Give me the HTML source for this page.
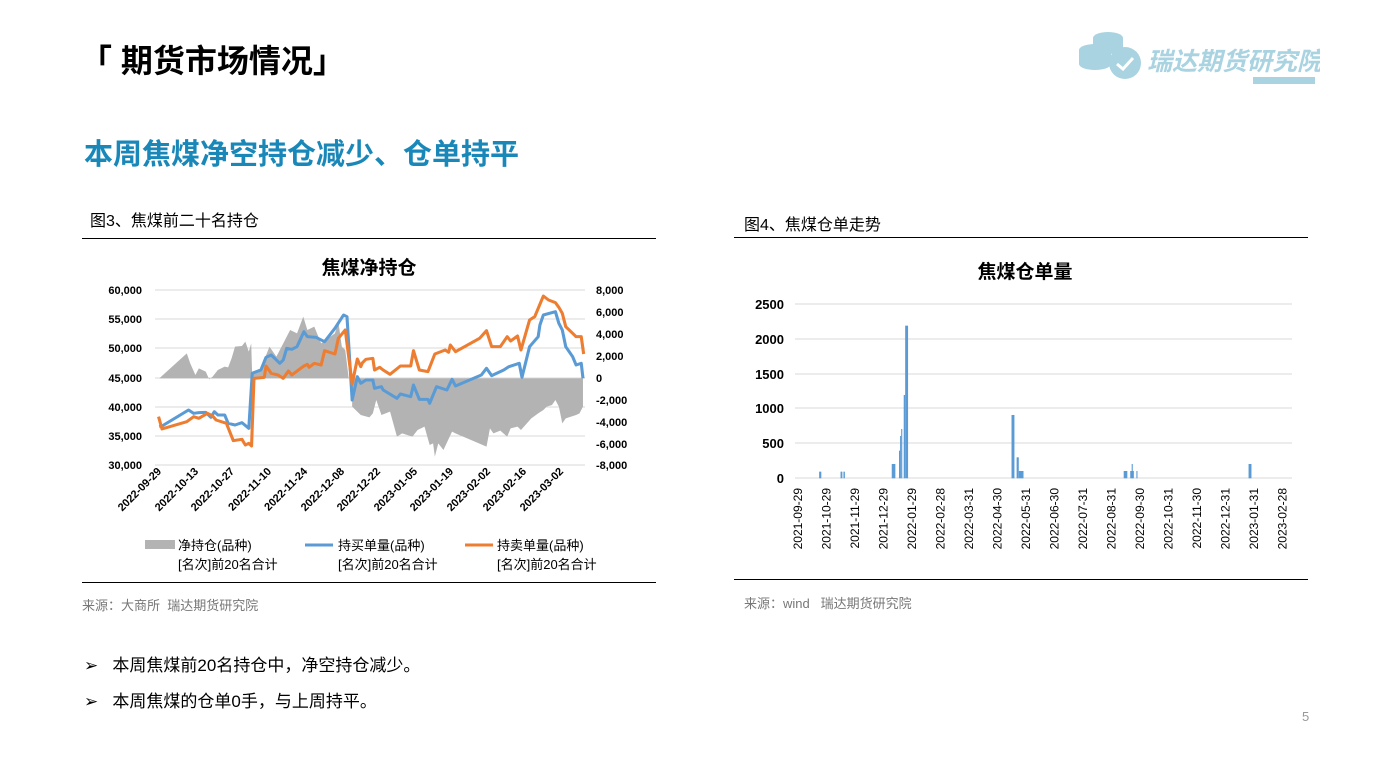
<!DOCTYPE html>
<html><head><meta charset="utf-8"><style>
body{margin:0;width:1387px;height:780px;background:#fff;position:relative;overflow:hidden;font-family:"Liberation Sans","Noto Sans CJK SC",sans-serif}
.a{position:absolute;white-space:nowrap}
</style></head><body>
<div class="a" style="left:80px;top:36px;font-size:32px;font-weight:bold;color:#000">「 期货市场情况」</div>
<svg class="a" style="left:1075px;top:28px" width="245" height="60">
<ellipse cx="33" cy="10" rx="15" ry="6" fill="#a9d3e1"/><rect x="18" y="10" width="30" height="10" fill="#a9d3e1"/><ellipse cx="33" cy="20" rx="15" ry="6" fill="#a9d3e1"/>
<ellipse cx="20" cy="22" rx="16" ry="6" fill="#a9d3e1"/><rect x="4" y="22" width="32" height="14" fill="#a9d3e1"/><ellipse cx="20" cy="36" rx="16" ry="6" fill="#a9d3e1"/>
<circle cx="50" cy="35" r="16" fill="#a9d3e1"/><path d="M42 36 L48 41 L58 30" stroke="#fff" stroke-width="3" fill="none"/>
<text x="72" y="42" font-size="25" font-weight="bold" font-style="italic" fill="#a9d3e1" font-family="Liberation Sans,Noto Sans CJK SC,sans-serif">瑞达期货研究院</text>
<rect x="178" y="49" width="62" height="7" fill="#a9d3e1"/></svg>
<div class="a" style="left:84px;top:131px;font-size:29px;font-weight:bold;color:#1a87b9">本周焦煤净空持仓减少、仓单持平</div>
<div class="a" style="left:90px;top:207px;font-size:16px">图3、焦煤前二十名持仓</div>
<div class="a" style="left:744px;top:211px;font-size:16px">图4、焦煤仓单走势</div>
<div class="a" style="left:82px;top:238px;width:574px;height:1px;background:#000"></div>
<div class="a" style="left:82px;top:582px;width:574px;height:1px;background:#000"></div>
<div class="a" style="left:734px;top:237px;width:574px;height:1px;background:#000"></div>
<div class="a" style="left:734px;top:579px;width:574px;height:1px;background:#000"></div>
<div class="a" style="left:82px;top:595px;font-size:13px;color:#777">来源：大商所&nbsp; 瑞达期货研究院</div>
<div class="a" style="left:744px;top:593px;font-size:13px;color:#777">来源：wind&nbsp;&nbsp; 瑞达期货研究院</div>
<div class="a" style="left:84px;top:651px;font-size:17px">➢&nbsp;&nbsp; 本周焦煤前20名持仓中，净空持仓减少。</div>
<div class="a" style="left:84px;top:687px;font-size:17px">➢&nbsp;&nbsp; 本周焦煤的仓单0手，与上周持平。</div>
<div class="a" style="left:1302px;top:709px;font-size:13px;color:#999">5</div>

<svg class="a" style="left:0;top:0" width="1387" height="780" font-family="Liberation Sans,Noto Sans CJK SC,sans-serif">
<text x="369" y="274" font-size="19" font-weight="bold" text-anchor="middle">焦煤净持仓</text>
<g stroke="#d9d9d9" stroke-width="1">
<line x1="155" x2="585" y1="290" y2="290"/><line x1="155" x2="585" y1="319" y2="319"/><line x1="155" x2="585" y1="348" y2="348"/><line x1="155" x2="585" y1="378" y2="378"/><line x1="155" x2="585" y1="407" y2="407"/><line x1="155" x2="585" y1="436" y2="436"/><line x1="155" x2="585" y1="465" y2="465"/></g>
<g font-size="11" font-weight="bold" text-anchor="end">
<text x="142" y="294">60,000</text><text x="142" y="323">55,000</text><text x="142" y="352">50,000</text><text x="142" y="382">45,000</text><text x="142" y="411">40,000</text><text x="142" y="440">35,000</text><text x="142" y="469">30,000</text></g>
<g font-size="11" font-weight="bold">
<text x="596" y="294">8,000</text><text x="596" y="316">6,000</text><text x="596" y="338">4,000</text><text x="596" y="360">2,000</text><text x="596" y="382">0</text><text x="596" y="404">-2,000</text><text x="596" y="426">-4,000</text><text x="596" y="448">-6,000</text><text x="596" y="469">-8,000</text></g>
<g transform="translate(80,280) scale(0.3445,0.3333)">
<polygon fill="#b3b3b3" points="230,295 310,220 320,250 335,285 345,265 365,275 375,298 385,290 400,270 420,260 430,262 440,235 450,200 470,198 480,185 490,215 497,190 500,295 500,275 525,265 550,200 570,230 590,190 610,150 630,160 648,110 660,150 680,140 690,165 700,190 720,175 740,160 750,125 760,200 770,210 780,295"/>
<polygon fill="#b3b3b3" points="790,295 790,380 800,390 815,405 840,412 850,400 860,360 875,405 900,395 920,470 935,460 965,470 980,450 1000,440 1015,495 1025,490 1030,530 1040,490 1055,510 1080,455 1090,460 1180,500 1190,445 1200,460 1220,452 1240,470 1250,445 1270,440 1280,450 1310,415 1330,400 1345,390 1355,380 1370,375 1380,360 1390,380 1400,430 1410,415 1440,405 1450,400 1460,380 1460,295"/>
<polyline fill="none" stroke="#5b9bd5" stroke-width="9" stroke-linejoin="round" points="230,440 240,437 315,390 330,400 345,398 365,397 380,412 390,395 400,405 420,405 430,430 450,435 470,428 490,445 500,280 525,270 540,232 555,225 580,250 590,240 600,205 615,208 630,200 650,155 660,170 685,172 710,185 740,145 765,105 775,110 790,360 805,290 815,310 830,300 850,300 855,325 875,320 880,330 920,355 930,342 960,350 968,315 985,358 1010,358 1015,370 1035,320 1065,330 1080,298 1090,318 1165,285 1180,265 1195,287 1230,270 1245,260 1275,250 1283,292 1305,200 1330,170 1335,135 1345,105 1380,95 1390,130 1400,150 1410,200 1430,230 1440,255 1455,250 1460,295"/>
<polyline fill="none" stroke="#ed7d31" stroke-width="9" stroke-linejoin="round" points="228,410 238,447 310,425 330,410 345,415 370,400 385,408 395,420 425,430 445,482 470,478 480,495 490,490 498,498 505,295 535,292 540,258 555,280 575,285 590,295 605,273 615,285 650,258 660,253 665,262 680,250 700,255 710,212 740,222 750,175 770,150 790,312 805,237 815,260 820,248 830,238 850,235 855,270 870,262 880,270 900,283 930,258 960,258 968,212 985,270 1010,275 1030,222 1060,210 1070,217 1075,195 1090,215 1160,175 1180,152 1195,200 1220,200 1240,170 1250,183 1270,168 1280,210 1305,120 1320,110 1345,48 1360,60 1380,68 1390,82 1400,100 1410,140 1430,160 1440,170 1455,170 1462,222"/>
</g>
<g font-size="11" font-weight="bold" text-anchor="end">
<text transform="translate(162,472) rotate(-45)">2022-09-29</text><text transform="translate(199,472) rotate(-45)">2022-10-13</text><text transform="translate(235,472) rotate(-45)">2022-10-27</text><text transform="translate(272,472) rotate(-45)">2022-11-10</text><text transform="translate(308,472) rotate(-45)">2022-11-24</text><text transform="translate(345,472) rotate(-45)">2022-12-08</text><text transform="translate(381,472) rotate(-45)">2022-12-22</text><text transform="translate(418,472) rotate(-45)">2023-01-05</text><text transform="translate(454,472) rotate(-45)">2023-01-19</text><text transform="translate(491,472) rotate(-45)">2023-02-02</text><text transform="translate(527,472) rotate(-45)">2023-02-16</text><text transform="translate(564,472) rotate(-45)">2023-03-02</text></g>
<rect x="145" y="540" width="30" height="9" fill="#b3b3b3"/>
<line x1="305" x2="333" y1="545" y2="545" stroke="#5b9bd5" stroke-width="3"/>
<line x1="465" x2="493" y1="545" y2="545" stroke="#ed7d31" stroke-width="3"/>
<g font-size="13"><text x="178" y="550">净持仓(品种)</text><text x="178" y="569">[名次]前20名合计</text>
<text x="338" y="550">持买单量(品种)</text><text x="338" y="569">[名次]前20名合计</text>
<text x="497" y="550">持卖单量(品种)</text><text x="497" y="569">[名次]前20名合计</text></g>

<text x="1025" y="278" font-size="19" font-weight="bold" text-anchor="middle">焦煤仓单量</text>
<g stroke="#d9d9d9"><line x1="795" x2="1292" y1="304" y2="304"/><line x1="795" x2="1292" y1="339" y2="339"/><line x1="795" x2="1292" y1="374" y2="374"/><line x1="795" x2="1292" y1="408" y2="408"/><line x1="795" x2="1292" y1="443" y2="443"/><line x1="795" x2="1292" y1="478" y2="478"/></g>
<g font-size="13" font-weight="bold" text-anchor="end"><text x="784" y="309">2500</text><text x="784" y="344">2000</text><text x="784" y="379">1500</text><text x="784" y="413">1000</text><text x="784" y="448">500</text><text x="784" y="483">0</text></g>
<g transform="translate(740,290) scale(0.363,0.3333)" fill="#5b9bd5">
<rect x="218" y="545" width="6" height="20"/><rect x="277" y="545" width="5" height="20"/><rect x="285" y="545" width="4" height="20"/><rect x="418" y="522" width="10" height="43"/><rect x="438" y="482" width="3" height="83"/><rect x="441" y="438" width="3" height="127"/><rect x="444" y="417" width="3" height="148"/><rect x="451" y="315" width="4" height="250"/><rect x="455" y="107" width="8" height="458"/><rect x="748" y="375" width="8" height="190"/><rect x="762" y="502" width="6" height="63"/><rect x="768" y="543" width="10" height="22"/><rect x="777" y="543" width="4" height="22"/><rect x="1057" y="543" width="10" height="22"/><rect x="1075" y="543" width="10" height="22"/><rect x="1079" y="522" width="3" height="43"/><rect x="1092" y="543" width="3" height="22"/><rect x="1401" y="522" width="8" height="43"/></g>
<g font-size="12" text-anchor="end">
<text transform="translate(802,488) rotate(-90)">2021-09-29</text><text transform="translate(830.5,488) rotate(-90)">2021-10-29</text><text transform="translate(859,488) rotate(-90)">2021-11-29</text><text transform="translate(887.5,488) rotate(-90)">2021-12-29</text><text transform="translate(916,488) rotate(-90)">2022-01-29</text><text transform="translate(944.5,488) rotate(-90)">2022-02-28</text><text transform="translate(973,488) rotate(-90)">2022-03-31</text><text transform="translate(1001.5,488) rotate(-90)">2022-04-30</text><text transform="translate(1030,488) rotate(-90)">2022-05-31</text><text transform="translate(1058.5,488) rotate(-90)">2022-06-30</text><text transform="translate(1087,488) rotate(-90)">2022-07-31</text><text transform="translate(1115.5,488) rotate(-90)">2022-08-31</text><text transform="translate(1144,488) rotate(-90)">2022-09-30</text><text transform="translate(1172.5,488) rotate(-90)">2022-10-31</text><text transform="translate(1201,488) rotate(-90)">2022-11-30</text><text transform="translate(1229.5,488) rotate(-90)">2022-12-31</text><text transform="translate(1258,488) rotate(-90)">2023-01-31</text><text transform="translate(1286.5,488) rotate(-90)">2023-02-28</text></g>
</svg>
</body></html>
